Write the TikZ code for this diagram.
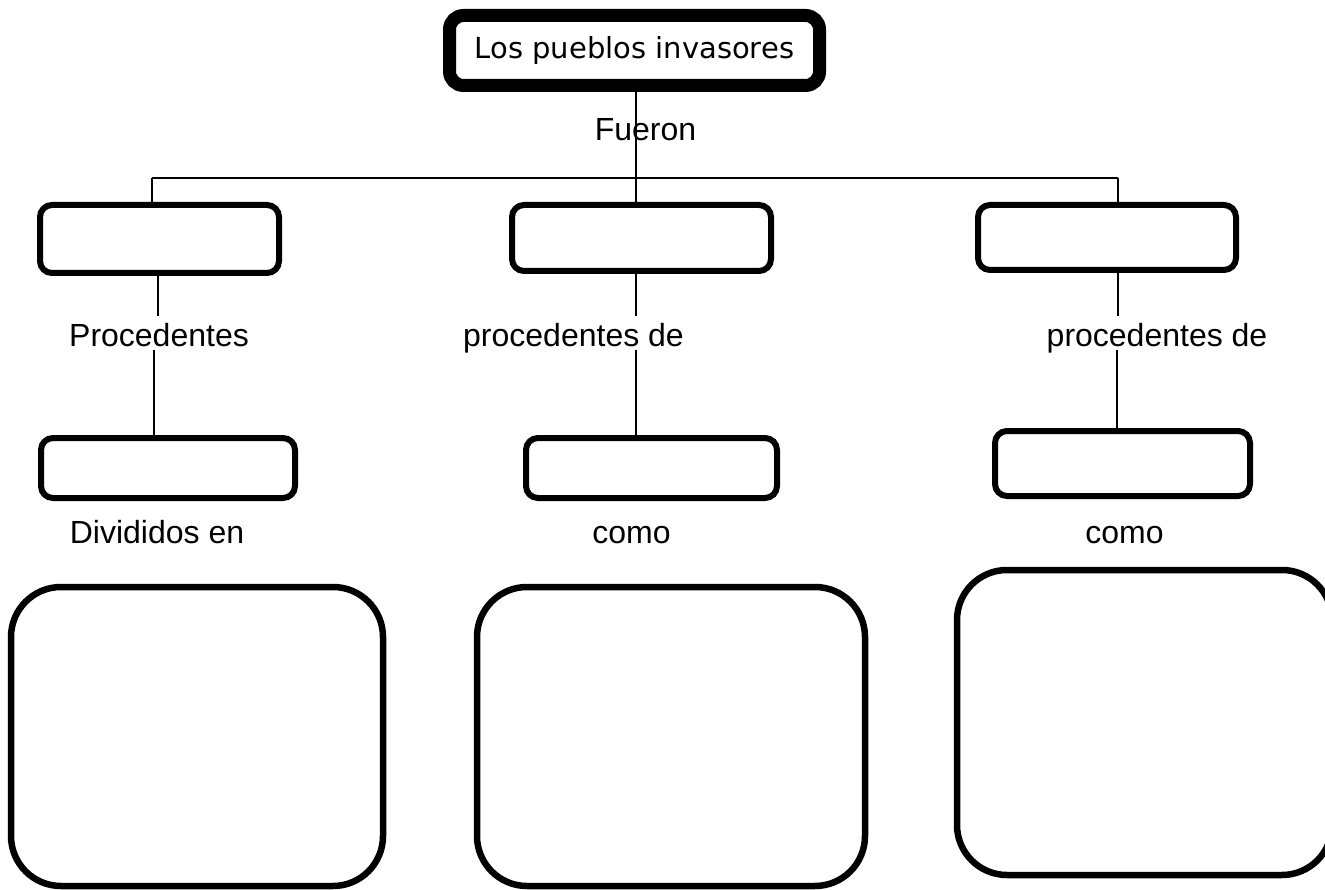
\documentclass[tikz,border=0pt]{standalone}
\usepackage{fontspec}
\setmainfont{Liberation Sans}
\newfontfamily\titlefont{DejaVu Sans}
\begin{document}
\begin{tikzpicture}[x=1pt,y=-1pt,
  box/.style={draw=black,fill=white,line width=6pt,rounded corners=12pt,inner sep=0pt,outer sep=0pt},
  bigbox/.style={draw=black,fill=white,line width=6.5pt,rounded corners=50pt,inner sep=0pt,outer sep=0pt},
  titlebox/.style={draw=black,fill=white,line width=13pt,rounded corners=14pt,inner sep=0pt,outer sep=0pt,
    font=\titlefont\fontsize{29}{34}\selectfont},
  lbl/.style={font=\fontsize{32}{38}\selectfont,text height=28pt,text depth=0pt,inner ysep=3pt,inner xsep=0pt},
  conn/.style={line width=1.3pt,draw=black}]
\useasboundingbox (0,0) rectangle (1325,890);
\fill[white] (0,0) rectangle (1325,890);
% nodes
\node[titlebox,minimum width=370pt,minimum height=70pt] (top) at (634.5,50.5) {Los pueblos invasores};
\node[box,minimum width=239pt,minimum height=68pt] (m1) at (159.5,239) {};
\node[box,minimum width=259pt,minimum height=66pt] (m2) at (641.5,238) {};
\node[box,minimum width=258pt,minimum height=65pt] (m3) at (1107,237.5) {};
\node[lbl,anchor=base] (p1) at (159,347) {Procedentes};
\node[lbl,anchor=base] (p2) at (573.5,347) {procedentes de};
\node[lbl,anchor=base] (p3) at (1157,347) {procedentes de};
\node[box,minimum width=254pt,minimum height=60pt] (l1) at (168,468) {};
\node[box,minimum width=251pt,minimum height=60pt] (l2) at (651.5,468) {};
\node[box,minimum width=255pt,minimum height=65pt] (l3) at (1122.5,463.5) {};
\node[lbl,anchor=base] (d1) at (157,543) {Divididos en};
\node[lbl,anchor=base] (d2) at (631.5,543) {como};
\node[lbl,anchor=base] (d3) at (1124.5,543) {como};
\node[bigbox,minimum width=372pt,minimum height=299pt] (b1) at (197,736.5) {};
\node[bigbox,minimum width=388pt,minimum height=299pt] (b2) at (671,736.5) {};
\node[bigbox,minimum width=375pt,minimum height=305pt] (b3) at (1144.5,722.5) {};
% connectors
\coordinate (jL) at (152,178);
\coordinate (jR) at (1118,178);
\draw[conn] ([xshift=1.5pt]top.south) -- ([xshift=1.5pt]top.south |- m2.north);
\draw[conn] (jL) -- (jR);
\draw[conn] (jL) -- (jL |- m1.north);
\draw[conn] (jR) -- (jR |- m3.north);
\draw[conn] ([xshift=-1.5pt]m1.south) -- ([xshift=-1.5pt]m1.south |- p1.north);
\draw[conn] ([xshift=-5pt]p1.south) -- ([xshift=-5pt]p1.south |- l1.north);
\draw[conn] ([xshift=-5.5pt]m2.south) -- ([xshift=-5.5pt]m2.south |- p2.north);
\draw[conn] ([xshift=-5.5pt]m2.south |- p2.south) -- ([xshift=-5.5pt]m2.south |- l2.north);
\draw[conn] ([xshift=11pt]m3.south) -- ([xshift=11pt]m3.south |- p3.north);
\draw[conn] ([xshift=10pt]m3.south |- p3.south) -- ([xshift=10pt]m3.south |- l3.north);
\node[font=\fontsize{32}{38}\selectfont,anchor=base,inner sep=0pt] (fu) at (645.5,141) {Fueron};
\end{tikzpicture}
\end{document}
